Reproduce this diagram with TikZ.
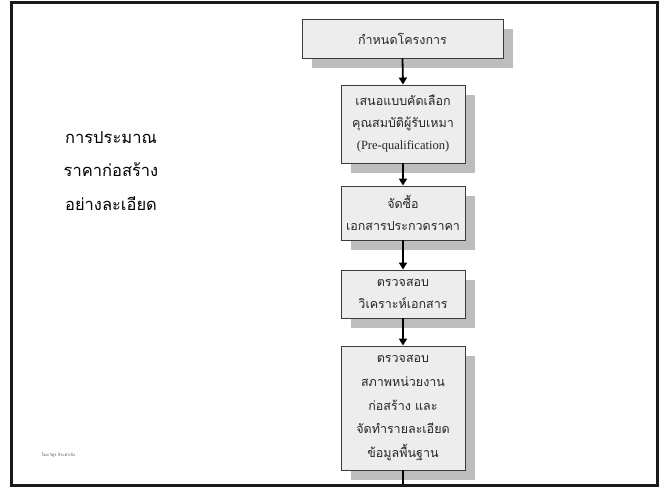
\documentclass[tikz,border=0pt]{standalone}
\usepackage{fontspec}
\setmainfont{Liberation Serif}
\newfontfamily\thaifont[Script=Thai]{Loma}
\usetikzlibrary{shadows,arrows.meta}
\definecolor{boxfill}{HTML}{EDEDED}
\definecolor{boxshade}{HTML}{BDBDBD}
\definecolor{boxline}{HTML}{3C3C3C}
\tikzset{
  stepbox/.style={draw=boxline, line width=0.9pt, fill=boxfill,
    general shadow={shadow xshift=10pt, shadow yshift=-10pt, fill=boxshade, draw=none},
    align=center, inner sep=0pt, font=\thaifont\fontsize{12.5}{22}\selectfont,
    text=black!85},
  flow/.style={line width=1.8pt, -{Triangle[length=7pt,width=8pt]}},
}
\begin{document}
\begin{tikzpicture}[x=1pt,y=-1pt]
\useasboundingbox (0,0) rectangle (665,488);
\fill[white] (0,0) rectangle (665,488);
% slide frame
\draw[line width=3pt, black!90] (11.5,2.5) rectangle (657,485.5);

% title on the left
\node[align=center, anchor=center, font=\thaifont\fontsize{16.5}{33.5}\selectfont] (title)
  at (111,171) {การประมาณ\\ราคาก่อสร้าง\\อย่างละเอียด};

% flow boxes
\node[stepbox, minimum width=201pt, minimum height=39pt] (b1) at (402.5,38.5) {กำหนดโครงการ};
\node[stepbox, minimum width=124pt, minimum height=78pt] (b2) at (403,124)
  {เสนอแบบคัดเลือก\\คุณสมบัติผู้รับเหมา\\{\rmfamily\fontsize{12.5}{22}\selectfont(Pre-qualification)}};
\node[stepbox, minimum width=124pt, minimum height=54pt] (b3) at (403,213)
  {จัดซื้อ\\เอกสารประกวดราคา};
\node[stepbox, minimum width=124pt, minimum height=48pt] (b4) at (403,294)
  {ตรวจสอบ\\วิเคราะห์เอกสาร};
\node[stepbox, minimum width=124pt, minimum height=124pt,
      font=\thaifont\fontsize{12.5}{23.7}\selectfont] (b5) at (403,408)
  {ตรวจสอบ\\สภาพหน่วยงาน\\ก่อสร้าง และ\\จัดทำรายละเอียด\\ข้อมูลพื้นฐาน};
\coordinate (end) at (403,484);

% connectors
\draw[flow] (b1.south) -- (b2.north);
\draw[flow] (b2.south) -- (b3.north);
\draw[flow] (b3.south) -- (b4.north);
\draw[flow] (b4.south) -- (b5.north);
\draw[line width=1.8pt] (b5.south) -- (end);

% author credit
\node[anchor=west, font=\thaifont\fontsize{4}{5}\selectfont, text=black!70] (credit)
  at (38,455) {โดย วิฐูร จิระดำเกิง};
\end{tikzpicture}
\end{document}
